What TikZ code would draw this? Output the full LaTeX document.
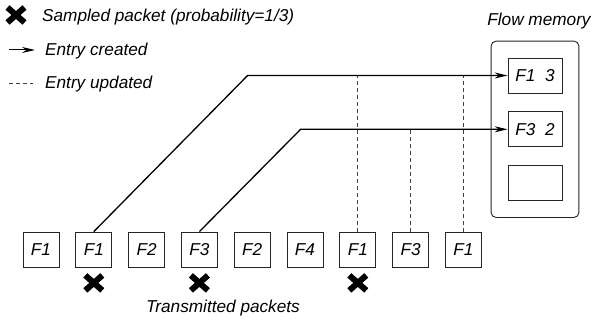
\documentclass[tikz,border=0pt]{standalone}
\usepackage{fontspec}
\setmainfont{Liberation Sans}
\usetikzlibrary{arrows.meta, positioning, fit, shapes.misc}

\begin{document}
\begin{tikzpicture}[
  x=1pt, y=1pt,
  font=\fontsize{17.2}{20}\selectfont\itshape,
  packet/.style={draw=black!85, line width=0.8pt, minimum width=36pt, minimum height=35pt, inner sep=0pt},
  entry/.style={packet, minimum width=54pt},
  sampled/.style={cross out, draw=black, line width=6pt, minimum width=11pt, minimum height=9pt, inner sep=0pt},
  created/.style={-{Stealth[length=13pt,width=6pt]}, line width=1.3pt},
  updated/.style={dash pattern=on 4pt off 3pt, line width=0.7pt, color=black!75}
]
  \useasboundingbox (0,0) rectangle (593,326);

  % Légende
  \node[sampled] (lgsample) at (16,311) {};
  \node[anchor=base west, inner sep=0pt] (lgsampletext) at (42,304) {Sampled packet (probability=1/3)};
  \coordinate (lgcreatedA) at (9,276);
  \coordinate (lgcreatedB) at (35,276);
  \draw[created, line width=1pt] (lgcreatedA) -- (lgcreatedB);
  \node[anchor=base west, inner sep=0pt] (lgcreatedtext) at (45,270) {Entry created};
  \coordinate (lgupdatedA) at (9,243);
  \coordinate (lgupdatedB) at (33,243);
  \draw[updated] (lgupdatedA) -- (lgupdatedB);
  \node[anchor=base west, inner sep=0pt] (lgupdatedtext) at (45,237) {Entry updated};

  % Paquets transmis
  \node[packet] (p1) at (41,76.5) {F1};
  \node[packet, right=16pt of p1] (p2) {F1};
  \node[packet, right=16pt of p2] (p3) {F2};
  \node[packet, right=16pt of p3] (p4) {F3};
  \node[packet, right=16pt of p4] (p5) {F2};
  \node[packet, right=16pt of p5] (p6) {F4};
  \node[packet, right=16pt of p6] (p7) {F1};
  \node[packet, right=16pt of p7] (p8) {F3};
  \node[packet, right=16pt of p8] (p9) {F1};

  \node[sampled, below=8pt of p2] (s2) {};
  \node[sampled, below=8pt of p4] (s4) {};
  \node[sampled, below=8pt of p7] (s7) {};

  \node[anchor=base] (txlabel) at (223,14) {Transmitted packets};

  % Mémoire de flux
  \node[entry] (m1) at (535,250.5) {F1~~3};
  \node[entry, below=18pt of m1] (m2) {F3~~2};
  \node[entry, below=18pt of m2] (m3) {};
  \node[draw=black!85, line width=0.9pt, rounded corners=5pt, inner sep=16.5pt, fit=(m1)(m3)] (mem) {};
  \node[above=8pt of mem, xshift=4pt] (memlabel) {Flow memory};

  % Mises à jour
  \draw[updated] (p7.north) -- (p7.north |- m1.west);
  \draw[updated] (p8.north) -- (p8.north |- m2.west);
  \draw[updated] (p9.north) -- (p9.north |- m1.west);

  % Créations d'entrées
  \draw[created] (p2.north) -- ([xshift=-260pt]m1.west) -- (m1.west);
  \draw[created] (p4.north) -- ([xshift=-207pt]m2.west) -- (m2.west);

\end{tikzpicture}
\end{document}
